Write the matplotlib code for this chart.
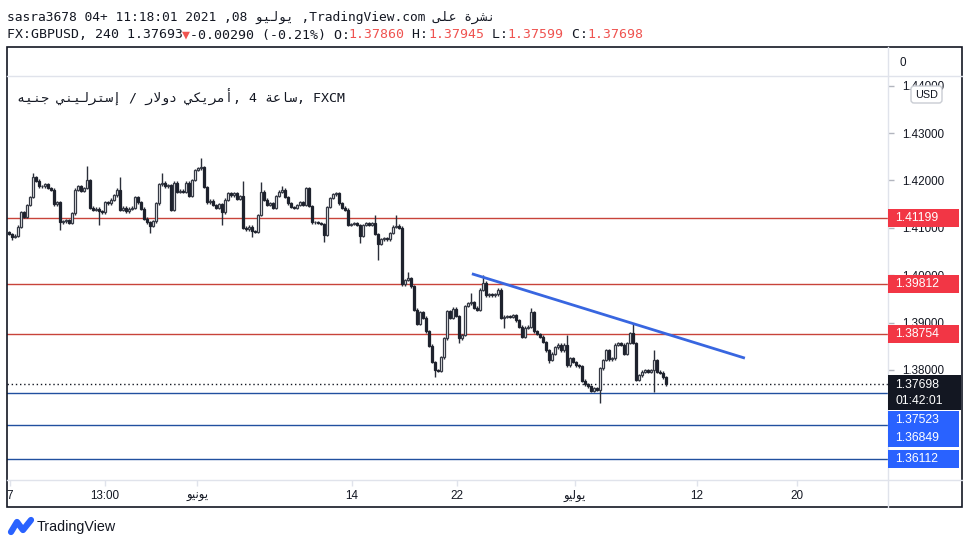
import matplotlib
matplotlib.use('Agg')
import matplotlib.pyplot as plt
from matplotlib.patches import Rectangle, FancyBboxPatch
from matplotlib.transforms import IdentityTransform

# ---- data (GBPUSD 4h, FXCM) ----
first_open = 1.4091
closes = [
    1.4087, 1.4081, 1.4083, 1.4102, 1.4133, 1.4123, 1.4148, 1.4165, 1.4207, 1.4199,
    1.4188, 1.4188, 1.4192, 1.4184, 1.4180, 1.4150, 1.4154, 1.4112, 1.4114, 1.4116,
    1.4110, 1.4131, 1.4180, 1.4188, 1.4178, 1.4184, 1.4201, 1.4142, 1.4138, 1.4140,
    1.4135, 1.4133, 1.4154, 1.4152, 1.4159, 1.4169, 1.4180,
    1.4138, 1.4142, 1.4135, 1.4140, 1.4142, 1.4165, 1.4154, 1.4140, 1.4119, 1.4112,
    1.4104, 1.4114, 1.4152, 1.4192, 1.4195, 1.4188, 1.4190, 1.4138, 1.4195, 1.4176,
    1.4178, 1.4176, 1.4195, 1.4167, 1.4201, 1.4222, 1.4226, 1.4228, 1.4186, 1.4154,
    1.4157, 1.4148, 1.4142, 1.4150, 1.4133, 1.4159, 1.4173,
    1.4169, 1.4173, 1.4161, 1.4167, 1.4100, 1.4097, 1.4102, 1.4093, 1.4091, 1.4127,
    1.4176, 1.4159, 1.4148, 1.4152, 1.4142, 1.4167, 1.4176, 1.4180, 1.4165, 1.4152,
    1.4144, 1.4142, 1.4148, 1.4154, 1.4148, 1.4184, 1.4146, 1.4112, 1.4112, 1.4110,
    1.4108, 1.4085, 1.4144, 1.4163, 1.4171, 1.4173,
    1.4152, 1.4142, 1.4138, 1.4106, 1.4108, 1.4110, 1.4106, 1.4083, 1.4106, 1.4110,
    1.4106, 1.4110, 1.4087, 1.4066, 1.4076, 1.4078, 1.4076, 1.4089, 1.4102, 1.4104,
    1.4100, 1.3981, 1.3990, 1.3994, 1.3977, 1.3927, 1.3897, 1.3922, 1.3910, 1.3882,
    1.3851, 1.3817, 1.3800, 1.3798, 1.3827, 1.3867, 1.3924,
    1.3910, 1.3929, 1.3914, 1.3867, 1.3874, 1.3935, 1.3941, 1.3943, 1.3931, 1.3927,
    1.3969, 1.3984, 1.3958, 1.3960, 1.3958, 1.3960, 1.3969, 1.3910, 1.3912, 1.3914,
    1.3912, 1.3916, 1.3905, 1.3891, 1.3870, 1.3889, 1.3891, 1.3922, 1.3882, 1.3876,
    1.3870, 1.3859, 1.3842, 1.3821, 1.3834, 1.3848,
    1.3853, 1.3842, 1.3853, 1.3810, 1.3825, 1.3817, 1.3810, 1.3808, 1.3777, 1.3770,
    1.3766, 1.3756, 1.3762, 1.3758, 1.3804, 1.3821, 1.3842, 1.3823, 1.3825, 1.3853,
    1.3857, 1.3853, 1.3834, 1.3857, 1.3878, 1.3857, 1.3779, 1.3789, 1.3796, 1.3800,
    1.3796, 1.3800, 1.3821, 1.3796, 1.3794, 1.3785, 1.3770,
]
# bars with visible long wicks (bar index -> price)
high_wicks = {8: 1.4216, 26: 1.4230, 37: 1.4207, 51: 1.4216, 64: 1.4247, 78: 1.4199,
              84: 1.4197, 91: 1.4188, 122: 1.4127, 129: 1.4127, 133: 1.4007, 154: 1.3962,
              158: 1.4000, 174: 1.3931, 186: 1.3874, 208: 1.3899, 215: 1.3842}
low_wicks = {1: 1.4074, 17: 1.4095, 30: 1.4106, 47: 1.4089, 71: 1.4106, 81: 1.4081,
             105: 1.4070, 117: 1.4068, 123: 1.4032, 142: 1.3785, 150: 1.3857, 165: 1.3889,
             180: 1.3815, 197: 1.3730, 215: 1.3754}
base_wick = 0.0003

red_levels = [1.41199, 1.39812, 1.38754]
blue_levels = [1.37523, 1.36849, 1.36112]
blue_label_shift = [27, 13, 0]   # px the axis labels are pushed down to avoid overlap
last_price = 1.37698
countdown = '01:42:01'

trend_x = [154.3, 245.3]
trend_y = [1.4003, 1.3825]

price_ticks = [1.38, 1.39, 1.40, 1.41, 1.42, 1.43, 1.44]
xtick_pos = [0.3, 32, 62.7, 114.3, 149.3, 188.7, 229.3, 262.7]

# ---- Arabic shaping (presentation forms, visual order) ----
AR = {
    'ا': (0xFE8D, 0xFE8E), 'أ': (0xFE83, 0xFE84), 'إ': (0xFE87, 0xFE88),
    'ة': (0xFE93, 0xFE94), 'د': (0xFEA9, 0xFEAA), 'ر': (0xFEAD, 0xFEAE),
    'و': (0xFEED, 0xFEEE), 'ى': (0xFEEF, 0xFEF0), 'لا': (0xFEFB, 0xFEFC),
    'ت': (0xFE95, 0xFE96, 0xFE97, 0xFE98), 'ج': (0xFE9D, 0xFE9E, 0xFE9F, 0xFEA0),
    'س': (0xFEB1, 0xFEB2, 0xFEB3, 0xFEB4), 'ش': (0xFEB5, 0xFEB6, 0xFEB7, 0xFEB8),
    'ع': (0xFEC9, 0xFECA, 0xFECB, 0xFECC), 'ك': (0xFED9, 0xFEDA, 0xFEDB, 0xFEDC),
    'ل': (0xFEDD, 0xFEDE, 0xFEDF, 0xFEE0), 'م': (0xFEE1, 0xFEE2, 0xFEE3, 0xFEE4),
    'ن': (0xFEE5, 0xFEE6, 0xFEE7, 0xFEE8), 'ه': (0xFEE9, 0xFEEA, 0xFEEB, 0xFEEC),
    'ي': (0xFEF1, 0xFEF2, 0xFEF3, 0xFEF4),
}


def shape(word):
    units, i = [], 0
    while i < len(word):
        if word[i:i + 2] == 'لا':
            units.append('لا')
            i += 2
        else:
            units.append(word[i])
            i += 1
    out = []
    for k, u in enumerate(units):
        f = AR.get(u)
        if f is None:
            out.append(u)
            continue
        prev = units[k - 1] if k > 0 else None
        nxt = units[k + 1] if k + 1 < len(units) else None
        jp = prev in AR and len(AR[prev]) == 4
        jn = len(f) == 4 and nxt in AR
        if jp and jn:
            c = f[3]
        elif jp:
            c = f[1]
        elif jn:
            c = f[2]
        else:
            c = f[0]
        out.append(chr(c))
    return ''.join(reversed(out))


xtick_labels = ['7', '13:00', shape('يونيو'), '14', '22', shape('يوليو'), '12', '20']

# ---- figure ----
W, H = 970, 548
MONO = ['DejaVu Sans Mono', 'DejaVu Sans']
SANS = ['Liberation Sans', 'DejaVu Sans']
TXT = '#131722'
RED_TXT = '#ef5350'
ID = IdentityTransform()

fig = plt.figure(figsize=(W / 100, H / 100), dpi=100)
fig.patch.set_facecolor('white')


def P(x, y):
    return x, H - y


# main price pane: x 7..888, y 76..480 (pixels from top)
ax = fig.add_axes([7 / W, 1 - 480 / H, 881 / W, 404 / H])
ax.set_xlim(-0.667, 293)
ax.set_ylim(1.35679, 1.44203)
for s in ax.spines.values():
    s.set_visible(False)

# candles
opens = [first_open] + closes[:-1]
for i, (o, c) in enumerate(zip(opens, closes)):
    top, bot = max(o, c), min(o, c)
    hi = high_wicks.get(i, top + base_wick)
    lo = low_wicks.get(i, bot - base_wick)
    ax.vlines(i, lo, hi, color='#2a2e39', lw=1.0, zorder=2)
    up = c >= o
    ax.bar(i, max(top - bot, 0.00006), bottom=bot, width=0.8,
           facecolor='white' if up else '#1e222d',
           edgecolor='#363a45' if up else '#1e222d', lw=0.9, zorder=3)

for lv in red_levels:
    ax.axhline(lv, color='#c8433a', lw=1, zorder=1)
for lv in blue_levels:
    ax.axhline(lv, color='#21509f', lw=1, zorder=1)
ax.axhline(last_price, color='#131722', lw=1, ls=(0, (1, 2)), zorder=1)
ax.plot(trend_x, trend_y, color='#3866e0', lw=2, solid_capstyle='butt', zorder=4)

# axes ticks
ax.yaxis.tick_right()
ax.set_yticks(price_ticks)
ax.set_yticklabels([f'{v:.5f}' for v in price_ticks])
ax.tick_params(axis='y', length=4, width=1, color='#b2b5be', pad=6,
               labelsize=8.4, labelcolor=TXT)
for t in ax.get_yticklabels():
    t.set_family(SANS)
ax.set_xticks(xtick_pos)
ax.set_xticklabels(xtick_labels)
ax.tick_params(axis='x', length=4, width=1, color='#e0e3eb', pad=3,
               labelsize=8.4, labelcolor=TXT)
for t in ax.get_xticklabels():
    t.set_family(SANS)

# frame / separators (pixel layout)
fig.add_artist(plt.Line2D([7, 962], [H - 76, H - 76], color='#e0e3eb', lw=1, transform=ID))
fig.add_artist(plt.Line2D([7, 962], [H - 480, H - 480], color='#e0e3eb', lw=1, transform=ID))
fig.add_artist(plt.Line2D([888, 888], [H - 47, H - 507], color='#e0e3eb', lw=1, transform=ID))
fig.add_artist(Rectangle(P(7, 507), 955, 460, fill=False, edgecolor='#131722', lw=1.2,
                         transform=ID))
fig.text(*P(900, 63), '0', transform=ID, fontsize=8.4, color=TXT, family=SANS, va='center')


def price_y(p):
    return ax.transData.transform((0, p))[1]


def axis_label(p, text, color, shift=0, h=18):
    y = price_y(p) - shift
    fig.add_artist(Rectangle((888, y - h / 2), 71, h, facecolor=color, edgecolor='none',
                             transform=ID, zorder=5))
    fig.text(895, y, text, transform=ID, color='white', fontsize=8.8, family=SANS,
             va='center', ha='left', zorder=6)


for lv in red_levels:
    axis_label(lv, f'{lv:.5f}', '#f23645')
for lv, sh in zip(blue_levels, blue_label_shift):
    axis_label(lv, f'{lv:.5f}', '#2962ff', sh)

# last price box with countdown
yl = price_y(last_price)
fig.add_artist(Rectangle((888, yl - 26), 73, 35, facecolor='#131722', edgecolor='none',
                         transform=ID, zorder=5))
fig.text(895, yl - 1, f'{last_price:.5f}', transform=ID, color='white', fontsize=8.8,
         family=SANS, va='center', zorder=6)
fig.text(895, yl - 17, countdown, transform=ID, color='white', fontsize=8.8,
         family=SANS, va='center', zorder=6)

# USD box
fig.add_artist(FancyBboxPatch(P(911, 103), 31, 17, boxstyle='round,pad=0,rounding_size=3',
                              facecolor='white', edgecolor='#c9ccd3', lw=1,
                              transform=ID, zorder=5))
fig.text(*P(926.5, 94.5), 'USD', transform=ID, fontsize=7.8, color=TXT, family=SANS,
         ha='center', va='center', zorder=6)

# symbol title inside the pane
title = ' '.join([shape('جنيه'), shape('إسترليني'), '/', shape('دولار'),
                  shape('أمريكي') + ',', '4', shape('ساعة') + ',', 'FXCM'])
fig.text(*P(17, 97), title, transform=ID, fontsize=9.6, color=TXT, family=MONO, va='center')

# header lines
line1 = ('sasra3678 04+ 11:18:01 2021 ,08 ' + shape('يوليو') + ' ,TradingView.com '
         + shape('على') + ' ' + shape('نشرة'))
fig.text(*P(7, 17), line1, transform=ID, fontsize=9.3, color=TXT, family=MONO, va='center')

parts = [('FX:GBPUSD, 240 1.37693', TXT), ('▼', RED_TXT), ('-0.00290 (-0.21%) O:', TXT),
         ('1.37860', RED_TXT), (' H:', TXT), ('1.37945', RED_TXT), (' L:', TXT),
         ('1.37599', RED_TXT), (' C:', TXT), ('1.37698', RED_TXT)]
cw = 7.95
n = 0
for s, col in parts:
    fig.text(7 + n * cw, H - 35, s, transform=ID, fontsize=9.5, color=col, family=MONO,
             va='center')
    n += len(s)

# footer logo + name
fig.add_artist(plt.Line2D([11, 17, 23, 31], [H - 532, H - 522, H - 530, H - 520],
                          color='#2962ff', lw=4.5, solid_capstyle='round',
                          solid_joinstyle='round', transform=ID))
fig.text(*P(37, 527), 'TradingView', transform=ID, fontsize=10.3, color='#131722',
         family=SANS, va='center')

fig.savefig('out.png', dpi=100)
